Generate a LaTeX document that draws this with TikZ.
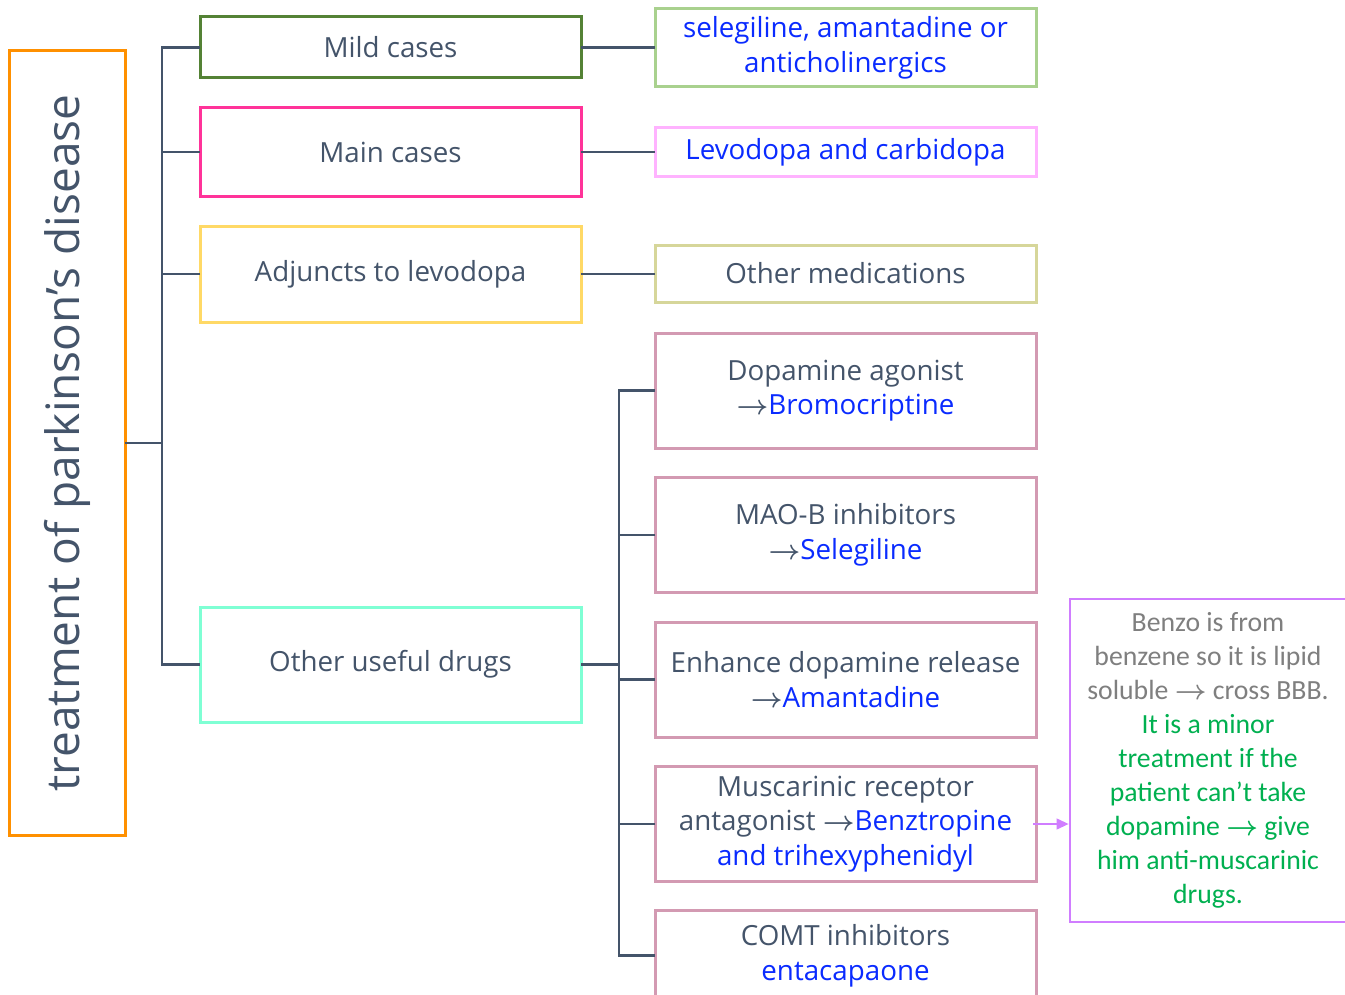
\documentclass[tikz,border=0pt]{standalone}
\usepackage{fontspec}
\setmainfont{Open Sans}
\newfontfamily\calfont{Carlito}
\usetikzlibrary{arrows.meta}
\definecolor{txt}{HTML}{44546A}
\definecolor{blu}{HTML}{0A2BFF}
\definecolor{orng}{HTML}{FF9000}
\definecolor{gdark}{HTML}{548235}
\definecolor{hpink}{HTML}{FF3399}
\definecolor{yel}{HTML}{FFD966}
\definecolor{aqua}{HTML}{7FFFD4}
\definecolor{lgreen}{HTML}{A9D18E}
\definecolor{lpink}{HTML}{FFB3FF}
\definecolor{khaki}{HTML}{D6D69A}
\definecolor{mauve}{HTML}{D39AB2}
\definecolor{viol}{HTML}{D07DFF}
\definecolor{grn}{HTML}{00B050}
\definecolor{gry}{HTML}{7F7F7F}
\newcommand{\ar}{{\boldmath$\rightarrow$}}
\tikzset{
  box/.style={draw, line width=2.25pt, rectangle, inner sep=0pt, outer sep=0pt, align=center, text=txt, font=\fontsize{20.8}{26}\selectfont},
  lbox/.style={box, minimum width=285.75pt},
  conn/.style={draw=txt, line width=1.6pt},
}
\begin{document}
\begin{tikzpicture}[x=0.75pt,y=-0.75pt]
\useasboundingbox (0,0) rectangle (1345,995);
\clip (0,0) rectangle (1345,995);
\fill[white] (0,0) rectangle (1345,995);
% title
\node[box, draw=orng, minimum width=588pt, minimum height=87pt, rotate=90, font=\fontsize{34.5}{40}\selectfont] (title) at (67,443) {treatment of parkinson’s disease};
% left column
\node[lbox, draw=gdark, minimum height=45.75pt] (mild) at (390.5,47.5) {Mild cases};
\node[lbox, draw=hpink, minimum height=66pt] (main) at (390.5,152) {Main cases};
\node[lbox, draw=yel, minimum height=72pt] (adj) at (390.5,274) {Adjuncts to levodopa};
\node[lbox, draw=aqua, minimum height=86.25pt] (useful) at (390.5,664.5) {Other useful drugs};
% right column
\node[lbox, draw=lgreen, minimum height=58.5pt, text=blu] (sel) at (845.5,48) {selegiline, amantadine or\\anticholinergics};
\node[lbox, draw=lpink, minimum height=36.75pt, text=blu] (levo) at (845.5,152.5) {Levodopa and carbidopa};
\node[lbox, draw=khaki, minimum height=42.75pt] (othm) at (845.5,273.5) {Other medications};
\node[lbox, draw=mauve, minimum height=86.25pt] (dopa) at (845.5,390.5) {Dopamine agonist\\\ar\textcolor{blu}{Bromocriptine}};
\node[lbox, draw=mauve, minimum height=86.25pt] (mao) at (845.5,535) {MAO-B inhibitors\\\ar\textcolor{blu}{Selegiline}};
\node[lbox, draw=mauve, minimum height=86.25pt] (enh) at (845.5,679.5) {Enhance dopamine release\\\ar\textcolor{blu}{Amantadine}};
\node[lbox, draw=mauve, minimum height=86.25pt] (musc) at (845.5,824) {Muscarinic receptor\\antagonist \ar\textcolor{blu}{Benztropine}\\\textcolor{blu}{and trihexyphenidyl}};
\node[lbox, draw=mauve, minimum height=67.5pt] (comt) at (845.5,955.5) {COMT inhibitors\\\textcolor{blu}{entacapaone}};
% note
\node[box, draw=viol, line width=1.5pt, minimum width=207pt, minimum height=242.25pt, font=\calfont\fontsize{20.8}{25.5}\selectfont] (benzo) at (1208,760) {\textcolor{gry}{Benzo is from}\\\textcolor{gry}{benzene so it is lipid}\\\textcolor{gry}{soluble \ar\ cross BBB.}\\\textcolor{grn}{It is a minor}\\\textcolor{grn}{treatment if the}\\\textcolor{grn}{patient can’t take}\\\textcolor{grn}{dopamine \ar\ give}\\\textcolor{grn}{him anti-muscarinic}\\\textcolor{grn}{drugs.}};
% buses
\coordinate (busL) at (162,0);
\coordinate (busR) at (619,0);
\draw[conn] (title.south) -- (title.south -| busL);
\draw[conn] (mild.west) -- (mild.west -| busL) -- (useful.west -| busL) -- (useful.west);
\draw[conn] (main.west) -- (main.west -| busL);
\draw[conn] (adj.west) -- (adj.west -| busL);
\draw[conn] (mild.east) -- (mild.east -| sel.west);
\draw[conn] (main.east) -- (main.east -| levo.west);
\draw[conn] (adj.east) -- (adj.east -| othm.west);
\draw[conn] (useful.east) -- (useful.east -| busR);
\draw[conn] (dopa.west) -- (dopa.west -| busR) -- (comt.west -| busR) -- (comt.west);
\draw[conn] (mao.west) -- (mao.west -| busR);
\draw[conn] (enh.west) -- (enh.west -| busR);
\draw[conn] (musc.west) -- (musc.west -| busR);
\draw[draw=viol, line width=1.5pt, -{Triangle[length=9pt,width=8pt]}, shorten <=-2pt, shorten >=1pt] (musc.east) -- (musc.east -| benzo.west);
\end{tikzpicture}
\end{document}
